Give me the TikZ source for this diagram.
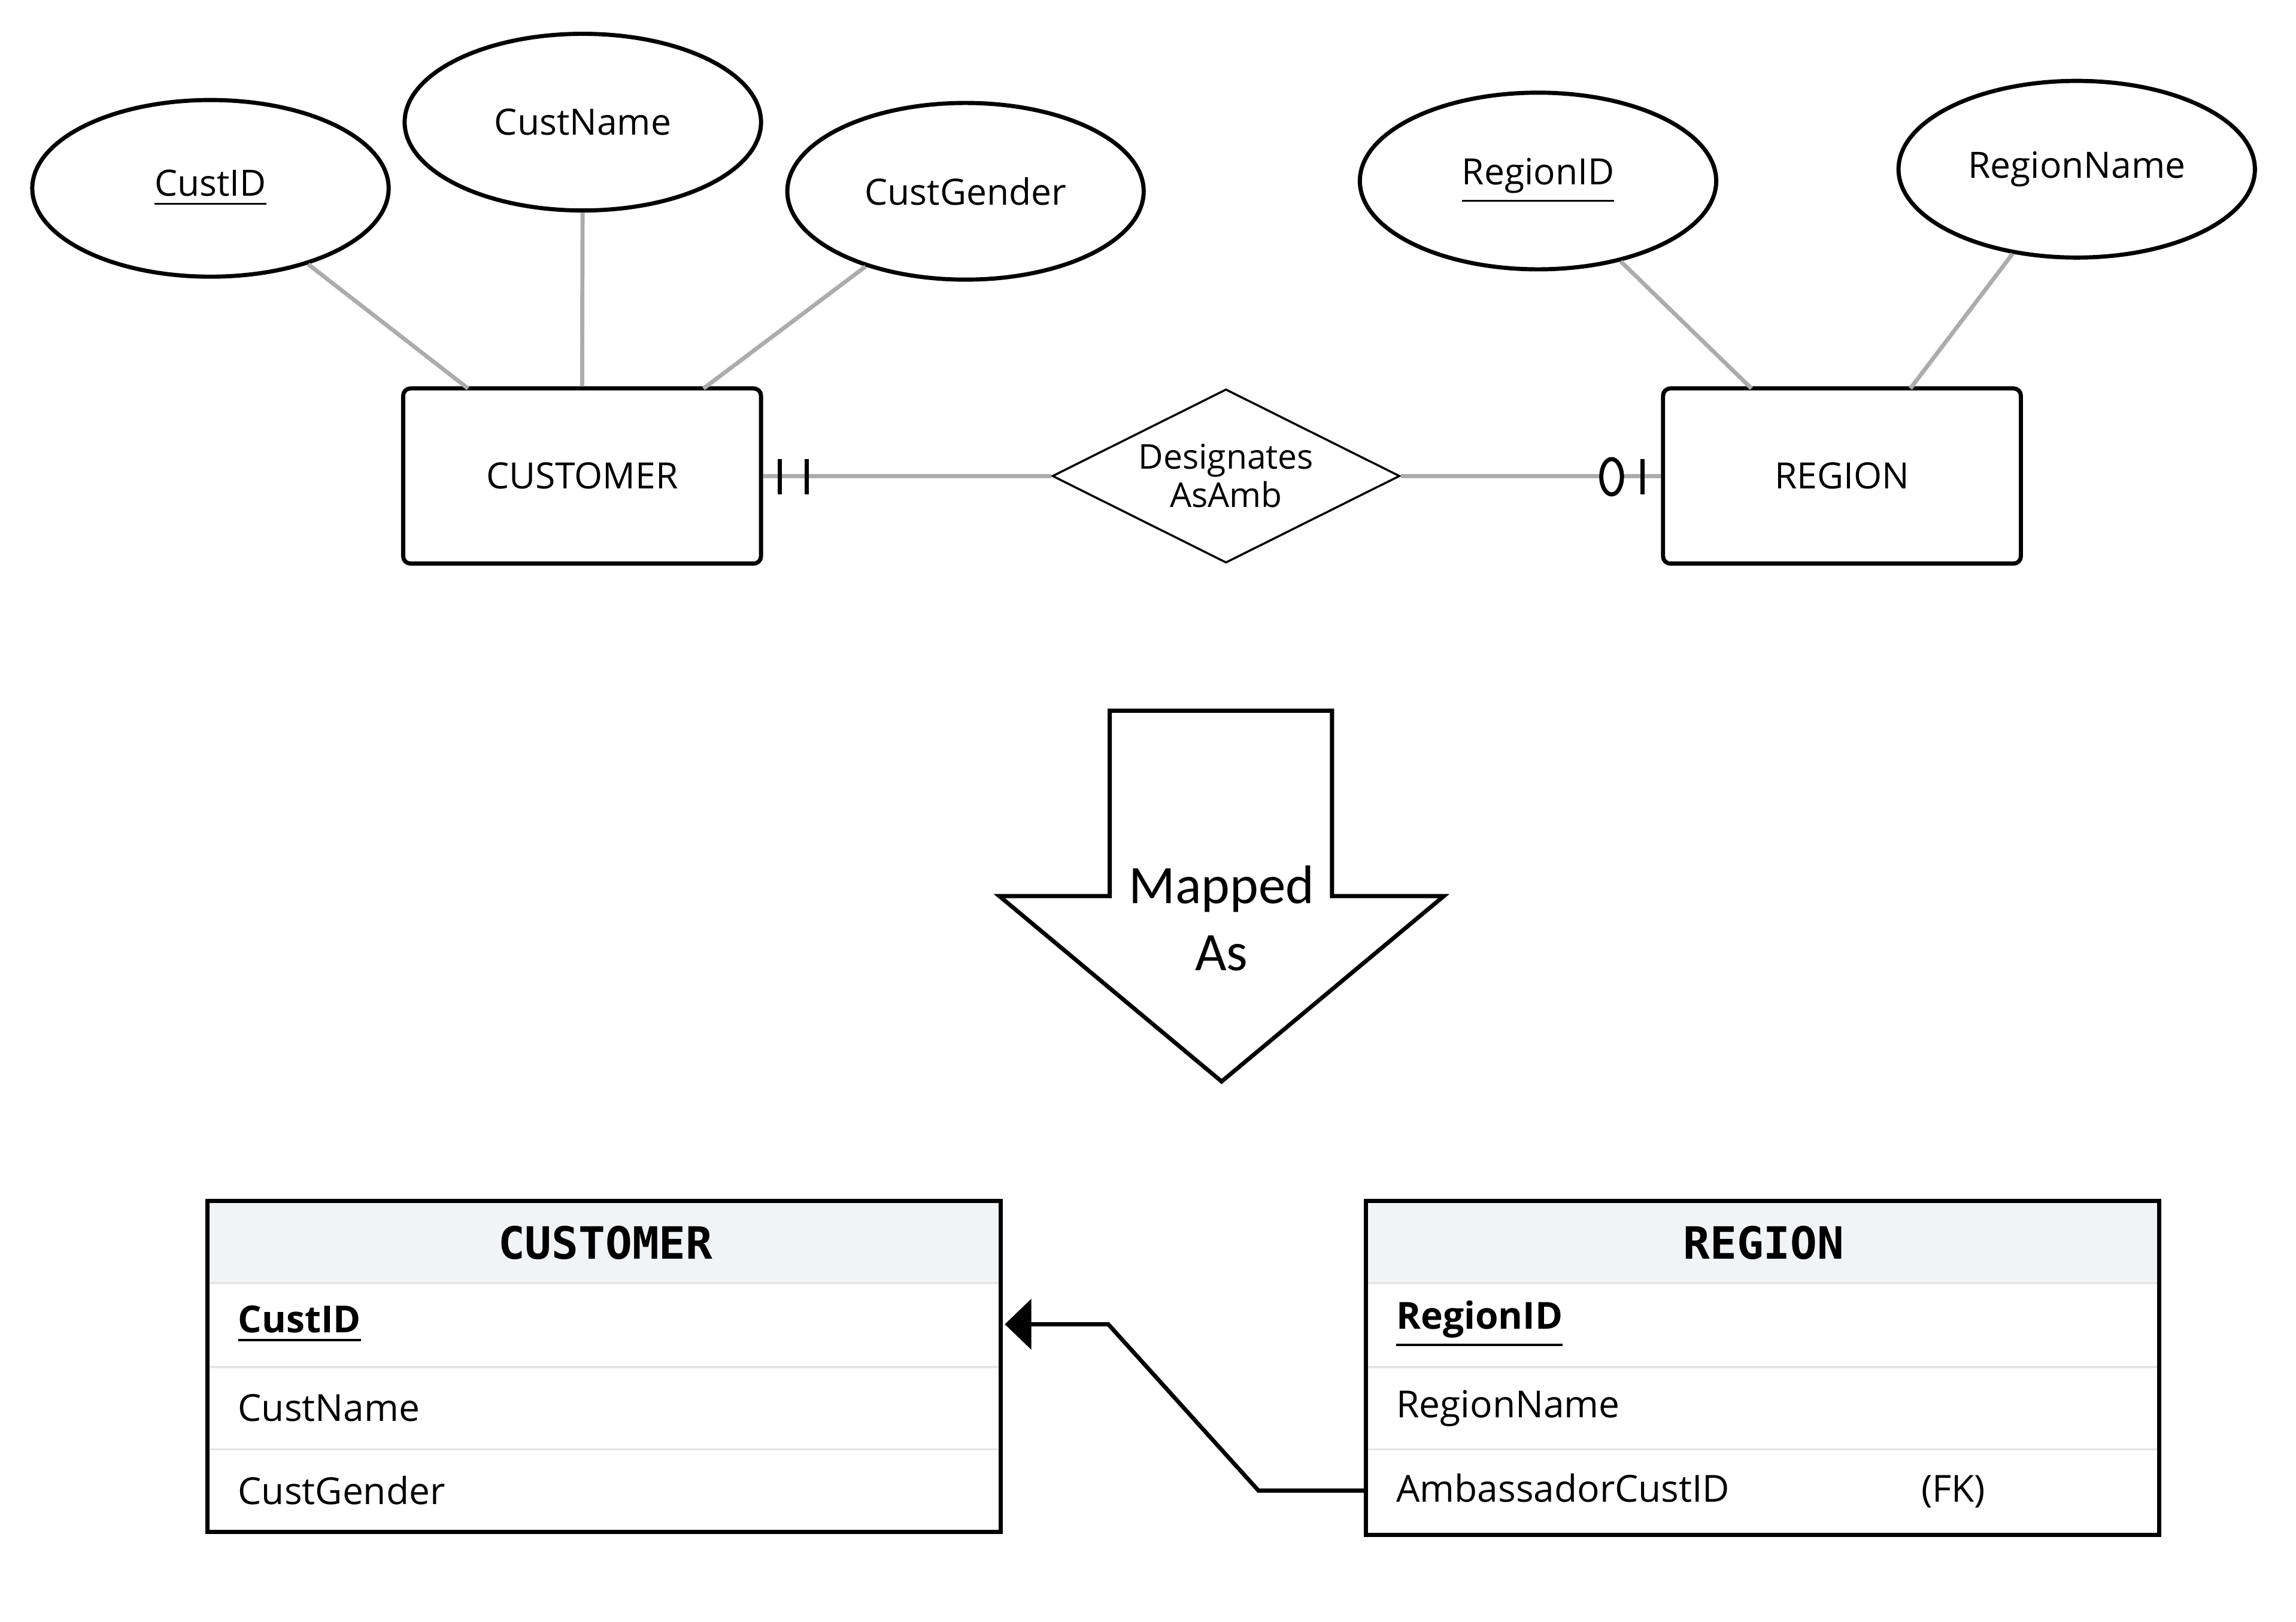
\documentclass[tikz,border=0pt]{standalone}
\usepackage{fontspec}
\setmainfont{Open Sans}
\newfontfamily\headfont{DejaVu Sans Mono}
\newfontfamily\callfont{Carlito}
\usetikzlibrary{shapes.geometric,arrows.meta}
\definecolor{hdrgray}{HTML}{F2F3F5}
\definecolor{sepgray}{HTML}{E4E4E4}
\tikzset{
  attr/.style={ellipse,draw,thick,minimum width=2.42cm,minimum height=1.2cm,font=\fontsize{7}{8}\selectfont},
  entity/.style={rectangle,draw,thick,rounded corners=0.5mm,minimum width=2.43cm,minimum height=1.19cm,font=\fontsize{7}{8}\selectfont},
  rel/.style={diamond,draw,aspect=2,inner sep=0pt,minimum width=2.36cm,minimum height=1.18cm,align=center,font=\fontsize{6.6}{7.4}\selectfont},
  attrline/.style={draw=gray!65,thick},
  hdr/.style={rectangle,fill=hdrgray,minimum width=5.39cm,minimum height=0.56cm,font=\headfont\bfseries\fontsize{8.6}{9}\selectfont},
  row/.style={rectangle,anchor=west,text width=5.0cm,inner xsep=0.2cm,align=left,font=\fontsize{7.2}{8}\selectfont},
}
\begin{document}
\begin{tikzpicture}[x=0.01cm,y=-0.01cm]
\useasboundingbox (0,0) rectangle (1560,1102);
% ER part
\node[attr] (cid) at (143,128) {\underline{CustID}};
\node[attr] (cname) at (396,83) {CustName};
\node[attr] (cgender) at (656,130) {CustGender};
\node[attr] (rid) at (1045,123) {\underline{RegionID}};
\node[attr] (rname) at (1411,115) {RegionName};
\node[entity] (cust) at (395.5,323.5) {CUSTOMER};
\node[entity] (reg) at (1251.5,323.5) {REGION};
\node[rel] (desig) at (833,323.5) {Designates\\AsAmb};
\draw[attrline] (cid) -- (318,264);
\draw[attrline] (cname) -- (cust.north);
\draw[attrline] (cgender) -- (478,264);
\draw[attrline] (rid) -- (1190,264);
\draw[attrline] (rname) -- (1298,264);
\draw[attrline] (cust.east) -- (desig.west);
\draw[attrline] (desig.east) -- (reg.west);
\draw[thick] (530,312) -- (530,336) (548,312) -- (548,336);
\draw[thick,fill=white] (1095,324) ellipse (7 and 12);
\draw[thick] (1116,312) -- (1116,336);
% mapping arrow
\draw[thick,fill=white] (754,483) -- (905,483) -- (905,609) -- (981,609) -- (830,735)
  -- (679,609) -- (754,609) -- cycle;
\node[font=\callfont\fontsize{10.5}{13}\selectfont,align=center] (map) at (830,624) {Mapped\\As};
% relational tables
\node[hdr,anchor=north west] (tcust) at (141,816) {CUSTOMER};
\node[row] (tcid) at (141,900) {\textbf{\underline{CustID}}};
\node[row] (tcname) at (141,957) {CustName};
\node[row] (tcgender) at (141,1013) {CustGender};
\draw[sepgray] (141,872) -- (680,872) (141,929) -- (680,929) (141,985) -- (680,985);
\draw[thick] (141,816) rectangle (680,1041);
\node[hdr,anchor=north west] (treg) at (928,816) {REGION};
\node[row] (trid) at (928,900) {\textbf{\underline{RegionID}}};
\node[row] (trname) at (928,957) {RegionName};
\node[row] (tramb) at (928,1013) {AmbassadorCustID\hspace{1.3cm}(FK)};
\draw[sepgray] (928,872) -- (1467,872) (928,929) -- (1467,929) (928,985) -- (1467,985);
\draw[thick] (928,816) rectangle (1467,1043);
\draw[thick,-{Triangle[length=0.18cm,width=0.34cm]}] (tramb.west) -- (855,1013) -- (753,900) -- (tcid.east);
\end{tikzpicture}
\end{document}
